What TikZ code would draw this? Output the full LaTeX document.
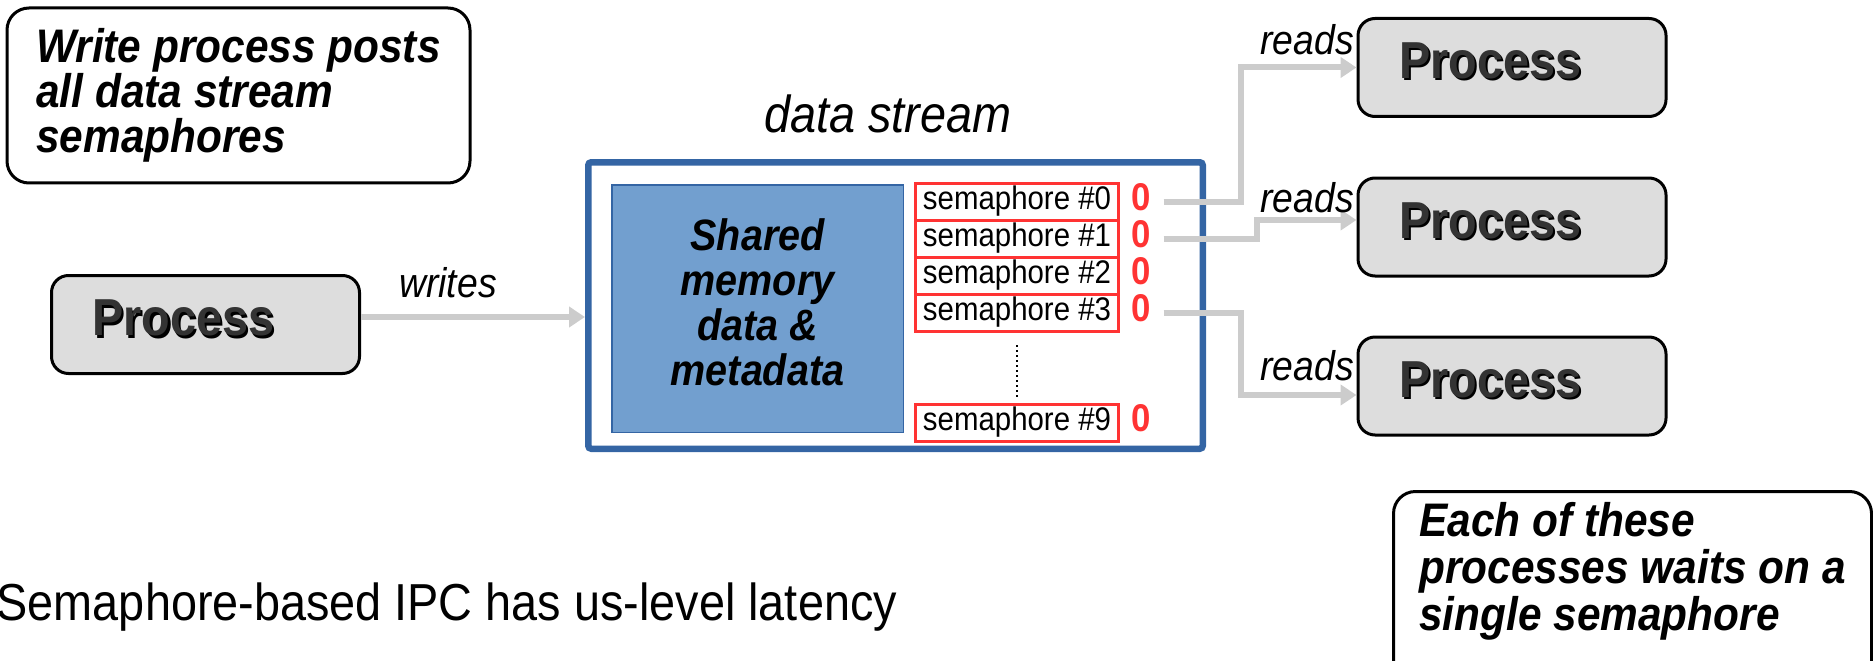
\documentclass[tikz,border=0pt]{standalone}
\usepackage{fontspec}
\setmainfont{Liberation Sans}[FakeStretch=0.9]
\usepackage{tikz}
\usetikzlibrary{arrows.meta,positioning}
\definecolor{smblue}{RGB}{52,101,164}
\definecolor{smlight}{RGB}{114,159,207}
\definecolor{smred}{RGB}{255,51,51}
\definecolor{smgray}{RGB}{221,221,221}
\definecolor{smarrow}{RGB}{204,204,204}
\definecolor{smtext}{RGB}{51,51,51}
\newcommand{\shadowed}[1]{\rlap{\kern0.6pt\raisebox{-0.6pt}{\color{black}#1}}{\color{smtext}#1}}
\tikzset{
  smproc/.style={draw=black, line width=0.3mm, rounded corners=1.7mm, fill=smgray, text width=22.6mm, inner xsep=4.1mm, inner ysep=0pt, align=left, minimum height=9.8mm, text depth=1.3mm, font=\fontsize{14.8}{17}\selectfont\bfseries},
  smnote/.style={draw=black, line width=0.3mm, rounded corners=2.2mm, fill=white, align=left, font=\fontsize{13.4}{12.8}\selectfont\bfseries\itshape},
  smstream/.style={draw=smblue, line width=0.65mm, rounded corners=0.3mm, fill=white},
  smshm/.style={draw=smblue, line width=0.15mm, fill=smlight, align=center, text depth=1.2mm, font=\fontsize{12.5}{12.8}\selectfont\bfseries\itshape},
  smsem/.style={draw=smred, line width=0.3mm, minimum width=20.3mm, minimum height=3.7mm, inner sep=0pt, font=\fontsize{9.3}{11}\selectfont},
  smzero/.style={text=smred, inner sep=0pt, yshift=0.4mm, font=\fontsize{11}{12}\selectfont\bfseries},
  smlbl/.style={inner sep=0pt, font=\fontsize{11.8}{14}\selectfont\itshape},
  smarr/.style={-{Triangle[length=1.6mm, width=2mm]}, line width=0.6mm, draw=smarrow}
}

\begin{document}
\begin{tikzpicture}[x=0.1mm, y=0.1mm]
  \path[use as bounding box, clip] (0,0) rectangle (1873,660);

  % notes
  \node[smnote, minimum width=46.3mm, minimum height=17.5mm] (note1) at (238.5,564.5) {Write process posts\\all data stream\\semaphores};
  \node[smnote, anchor=north west, minimum width=47.8mm, inner ysep=1.1mm, text depth=5mm, font=\fontsize{13.4}{13.3}\selectfont\bfseries\itshape] (note2) at (1392,170) {Each of these\\processes waits on a\\single semaphore};

  % writer
  \node[smproc] (pw) at (205.5,335.5) {\shadowed{Process}};

  % data stream block
  \node[smstream, minimum width=61.45mm, minimum height=28.65mm] (ds) at (895.5,354.5) {};
  \node[smlbl, font=\fontsize{14.8}{17}\selectfont\itshape, anchor=base] (dslbl) at ([xshift=-0.75mm, yshift=2.7mm]ds.north) {data stream};
  \node[smshm, minimum width=29.15mm, minimum height=24.75mm] (shm) at (757.5,351.5) {Shared\\memory\\data \&\\metadata};

  % semaphores
  \node[smsem] (s0) at (1017,458.5) {semaphore \#0};
  \node[smsem, below=-0.3mm of s0] (s1) {semaphore \#1};
  \node[smsem, below=-0.3mm of s1] (s2) {semaphore \#2};
  \node[smsem, below=-0.3mm of s2] (s3) {semaphore \#3};
  \node[smsem] (s9) at (1017,237.5) {semaphore \#9};
  \draw[line width=0.15mm, densely dotted, shorten <=1.25mm, shorten >=0.5mm] (s3.south) -- (s9.north);
  \node[smzero, right=1.1mm of s0] (z0) {0};
  \node[smzero, right=1.1mm of s1] (z1) {0};
  \node[smzero, right=1.1mm of s2] (z2) {0};
  \node[smzero, right=1.1mm of s3] (z3) {0};
  \node[smzero, right=1.1mm of s9] (z9) {0};

  % readers
  \node[smproc] (p1) at (1512,592.5) {\shadowed{Process}};
  \node[smproc] (p2) at (1512,433) {\shadowed{Process}};
  \node[smproc] (p3) at (1512,274) {\shadowed{Process}};

  % connections
  \coordinate (wrin) at ([yshift=0.75mm]pw.east);
  \draw[smarr] (wrin) -- (wrin -| ds.west);
  \node[smlbl, anchor=base] (wr) at (448,363) {writes};

  \draw[smarr] ([xshift=4.35mm]s0.east) -| ([xshift=-11.6mm]p1.west) -- (p1.west);
  \draw[smarr] ([xshift=4.35mm]s1.east) -| ([xshift=-10mm, yshift=0.7mm]p2.west) -- ([yshift=0.7mm]p2.west);
  \draw[smarr] ([xshift=4.35mm]s3.east) -| ([xshift=-11.6mm, yshift=-0.9mm]p3.west) -- ([yshift=-0.9mm]p3.west);
  \node[smlbl, anchor=base east] (rd1) at ([xshift=-0.2mm, yshift=1.25mm]p1.west) {reads};
  \node[smlbl, anchor=base east] (rd2) at ([xshift=-0.2mm, yshift=1.4mm]p2.west) {reads};
  \node[smlbl, anchor=base east] (rd3) at ([xshift=-0.2mm, yshift=0.6mm]p3.west) {reads};

  \node[anchor=base west, inner sep=0pt, font=\fontsize{14.8}{17}\selectfont] (summary) at (-4,40) {Semaphore-based IPC has us-level latency};
\end{tikzpicture}
\end{document}
